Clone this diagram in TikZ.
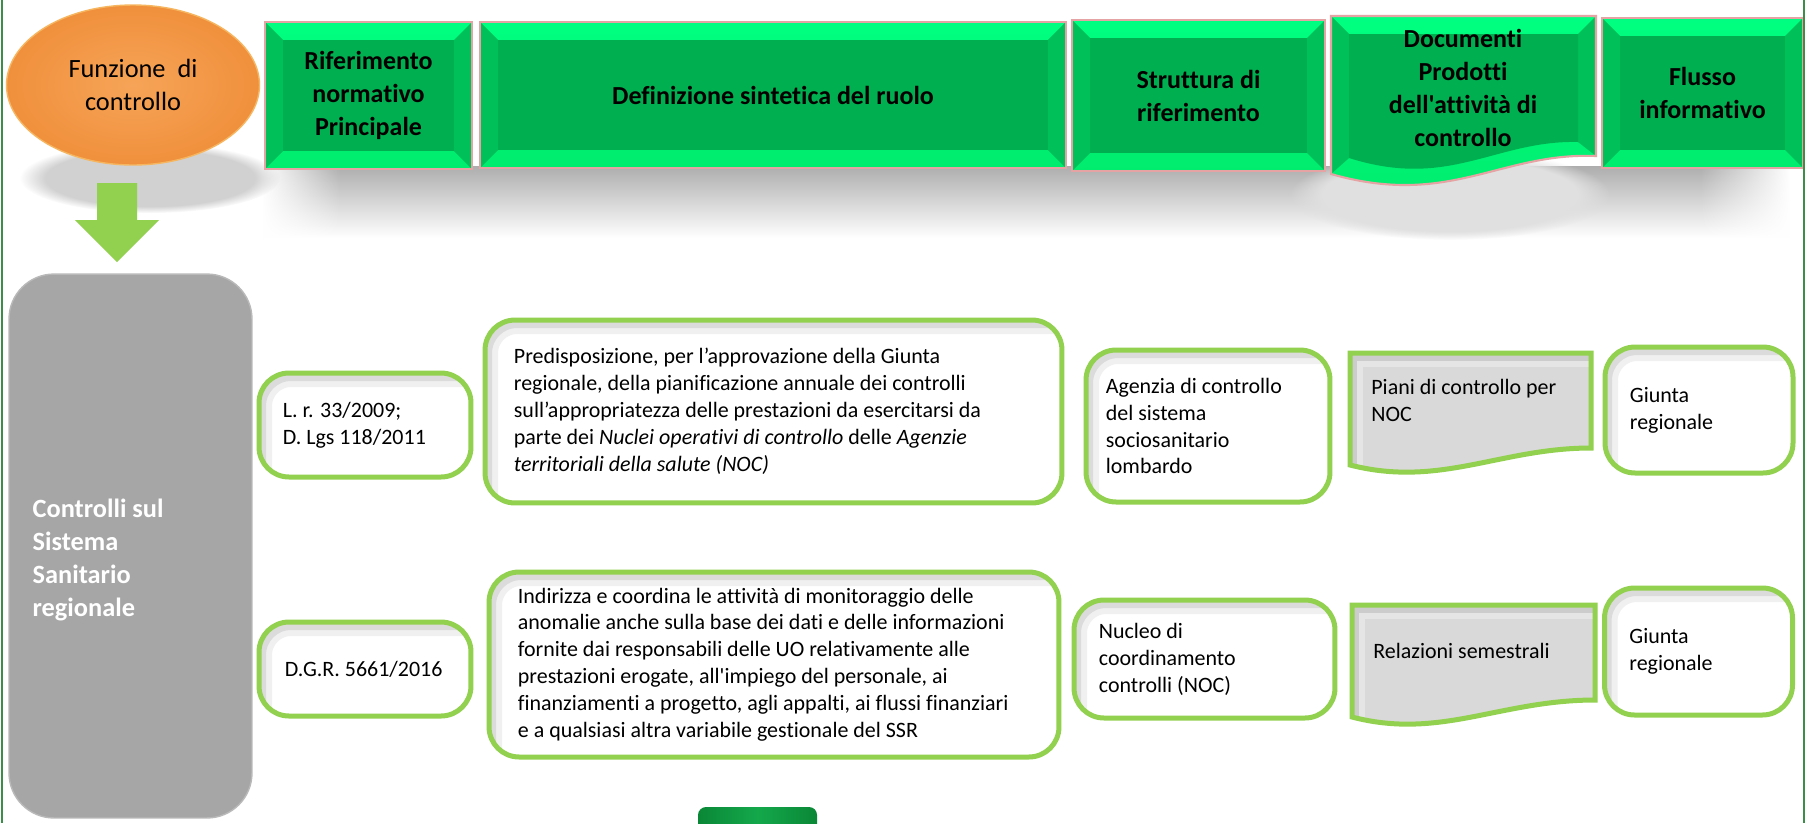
\documentclass[tikz,border=0pt]{standalone}
\usepackage{fontspec}
\setmainfont{Carlito}[Ligatures={TeXOff,NoCommon}]
\usetikzlibrary{positioning,shapes.geometric,fadings}

\definecolor{hdrface}{HTML}{00AF50}
\definecolor{hdrtop}{HTML}{00FF80}
\definecolor{hdrbot}{HTML}{00EC6E}
\definecolor{hdrside}{HTML}{00C05A}
\definecolor{hdrrim}{HTML}{E6A3A3}
\definecolor{boxgreen}{HTML}{92D050}
\definecolor{docgrey}{HTML}{D9D9D9}
\definecolor{leftgrey}{HTML}{A6A6A6}
\definecolor{greyrim}{HTML}{B9B9B9}
\definecolor{edgegreen}{HTML}{3B8D47}
\definecolor{orangein}{HTML}{F6A458}
\definecolor{orangeout}{HTML}{F0903C}
\definecolor{orangerim}{HTML}{F6B660}
\definecolor{footdark}{HTML}{0A8736}
\definecolor{footlight}{HTML}{14A84B}

\newcommand\hdrfont{\fontsize{14.8}{18.8}\selectfont\bfseries}
\newcommand\txtfont{\fontsize{12.5}{15.3}\selectfont}

\tikzset{
  hdrbox/.style={rectangle, draw=hdrrim, line width=1.2pt, top color=hdrtop, bottom color=hdrbot,
    inner sep=0pt, align=center, font=\hdrfont,
    path picture={
      \fill[hdrside] (path picture bounding box.north west) -- ++(0.36cm,-0.36cm)
        -- ([shift={(0.36cm,0.36cm)}]path picture bounding box.south west)
        -- (path picture bounding box.south west) -- cycle;
      \fill[hdrside] (path picture bounding box.north east) -- ++(-0.36cm,-0.36cm)
        -- ([shift={(-0.36cm,0.36cm)}]path picture bounding box.south east)
        -- (path picture bounding box.south east) -- cycle;
      \fill[hdrface] ([shift={(0.36cm,-0.36cm)}]path picture bounding box.north west)
        rectangle ([shift={(-0.36cm,0.36cm)}]path picture bounding box.south east);
    }},
  hdrtxt/.style={inner sep=0pt, align=center, font=\hdrfont},
  rowbox/.style={rectangle, rounded corners=0.6cm, draw=boxgreen, line width=0.1cm, fill=white,
    path picture={
      \draw[black!6, line width=0.44cm, rounded corners=0.6cm]
        ([shift={(0.04cm,-0.06cm)}]path picture bounding box.north west)
        rectangle ([shift={(2cm,-2cm)}]path picture bounding box.south east);
      \draw[black!14, line width=0.2cm, rounded corners=0.6cm]
        ([shift={(0.04cm,-0.06cm)}]path picture bounding box.north west)
        rectangle ([shift={(2cm,-2cm)}]path picture bounding box.south east);
    }},
  docbox/.style={draw=boxgreen, line width=0.1cm, fill=docgrey,
    path picture={
      \draw[black!10, line width=0.44cm]
        ([shift={(0.04cm,-0.06cm)}]path picture bounding box.north west)
        rectangle ([shift={(2cm,-2cm)}]path picture bounding box.south east);
      \draw[black!20, line width=0.2cm]
        ([shift={(0.04cm,-0.06cm)}]path picture bounding box.north west)
        rectangle ([shift={(2cm,-2cm)}]path picture bounding box.south east);
    }},
  txt/.style={inner sep=0pt, align=left, font=\txtfont},
}

\begin{document}
\begin{tikzpicture}[x=0.02cm, y=-0.02cm]
\useasboundingbox (0,0) rectangle (1807,823);
\fill[white] (0,0) rectangle (1807,823);

% shadows under the header row
\shade[top color=black!32, bottom color=white] (340,166) rectangle (1700,238);
\shade[top color=black!32, bottom color=white, path fading=west] (262,166) rectangle (340,238);
\shade[top color=black!32, bottom color=white, path fading=east] (1700,166) rectangle (1790,238);
\fill[black!12, path fading=circle with fuzzy edge 20 percent] (1450,195) ellipse (3.2cm and 0.9cm);
\fill[black!18, path fading=circle with fuzzy edge 20 percent] (150,178) ellipse (2.6cm and 0.7cm);

% header
\node[ellipse, minimum width=5.06cm, minimum height=3.2cm, inner color=orangein, outer color=orangeout,
  draw=orangerim, line width=0.8pt, align=center, font=\fontsize{15}{18.8}\selectfont] (funz) at (133,85) {Funzione~~di\\controllo};

\node[hdrbox, minimum width=4.14cm, minimum height=2.94cm] (rif) at (368.5,95.5) {Riferimento\\normativo\\Principale};
\node[hdrbox, minimum width=11.72cm, minimum height=2.92cm] (defin) at (773,95) {Definizione sintetica del ruolo};
\node[hdrbox, minimum width=5.06cm, minimum height=3.02cm] (strut) at (1198.5,95.5) {Struttura di\\riferimento};

\path[top color=hdrtop, bottom color=hdrbot]
  (1331,16) -- (1596,16) -- (1596,156) .. controls (1500,152) and (1450,208) .. (1331,174) -- cycle;
\fill[hdrside] (1331,16) -- (1349,34) -- (1349,158) -- (1331,174) -- cycle;
\fill[hdrside] (1596,16) -- (1578,34) -- (1578,142) -- (1596,156) -- cycle;
\fill[hdrface] (1349,34) -- (1578,34) -- (1578,142) .. controls (1495,140) and (1450,190) .. (1349,158) -- cycle;
\draw[hdrrim, line width=1.2pt]
  (1331,16) -- (1596,16) -- (1596,156) .. controls (1500,152) and (1450,208) .. (1331,174) -- cycle;
\node[hdrtxt] (doku) at (1463,88) {Documenti\\Prodotti\\dell'attività di\\controllo};

\node[hdrbox, minimum width=4.02cm, minimum height=3.0cm] (flusso) at (1702.5,93) {Flusso\\informativo};

% freccia
\fill[boxgreen] (97,183) -- (137,183) -- (137,220) -- (159,220) -- (117,262) -- (75,220) -- (97,220) -- cycle;

% colonna sinistra
\node[rectangle, rounded corners=0.9cm, fill=leftgrey, draw=greyrim, line width=0.8pt,
  minimum width=4.86cm, minimum height=10.88cm] (ambito) at (130.5,546) {};
\node[anchor=west, align=left, inner sep=0pt, text=white, font=\fontsize{15}{18.8}\selectfont\bfseries]
  (ambitotxt) at ([shift={(0.48cm,-0.28cm)}]ambito.west) {Controlli sul\\Sistema\\Sanitario\\regionale};

% riga 1
\node[rowbox, minimum width=4.24cm, minimum height=2.08cm] (lr1) at (365,425) {};
\node[txt, right=0.52cm of lr1.west] (lr1t) {L. r. 33/2009;\\D. Lgs 118/2011};
\node[rowbox, minimum width=11.54cm, minimum height=3.66cm] (ruolo1) at (773.5,411.5) {};
\node[txt, right=0.62cm of ruolo1.west] (ruolo1t) {Predisposizione, per l’approvazione della Giunta\\
  regionale, della pianificazione annuale dei controlli\\
  sull’appropriatezza delle prestazioni da esercitarsi da\\
  parte dei \textit{Nuclei operativi di controllo} delle \textit{Agenzie}\\
  \textit{territoriali della salute (NOC)}};
\node[rowbox, minimum width=4.88cm, minimum height=3.04cm] (strut1) at (1208,426) {};
\node[txt, right=0.44cm of strut1.west] (strut1t) {Agenzia di controllo\\del sistema\\sociosanitario\\lombardo};
\path[docbox] (1350,353) -- (1591,353) -- (1591,448) .. controls (1500,448) and (1440,488) .. (1350,465) -- cycle;
\coordinate (doc1) at (1350,353);
\node[txt, below right=0.52cm and 0.42cm of doc1] (doc1t) {Piani di controllo per\\NOC};
\node[rowbox, minimum width=3.76cm, minimum height=2.52cm] (flux1) at (1699,410) {};
\node[txt, right=0.54cm of flux1.west] (flux1t) {Giunta\\regionale};

% riga 2
\node[rowbox, minimum width=4.24cm, minimum height=1.88cm] (lr2) at (365,669) {};
\node[txt, right=0.56cm of lr2.west] (lr2t) {D.G.R. 5661/2016};
\node[rowbox, minimum width=11.4cm, minimum height=3.7cm] (ruolo2) at (774,664.5) {};
\node[txt, right=0.62cm of ruolo2.west] (ruolo2t) {Indirizza e coordina le attività di monitoraggio delle\\
  anomalie anche sulla base dei dati e delle informazioni\\
  fornite dai responsabili delle UO relativamente alle\\
  prestazioni erogate, all'impiego del personale, ai\\
  finanziamenti a progetto, agli appalti, ai flussi finanziari\\
  e a qualsiasi altra variabile gestionale del SSR};
\node[rowbox, minimum width=5.22cm, minimum height=2.36cm] (strut2) at (1204.5,659) {};
\node[txt, right=0.54cm of strut2.west] (strut2t) {Nucleo di\\coordinamento\\controlli (NOC)};
\path[docbox] (1352,605) -- (1595,605) -- (1595,700) .. controls (1500,700) and (1440,740) .. (1352,717) -- cycle;
\coordinate (doc2) at (1352,605);
\node[txt, below right=0.76cm and 0.42cm of doc2] (doc2t) {Relazioni semestrali};
\node[rowbox, minimum width=3.76cm, minimum height=2.54cm] (flux2) at (1698.5,651.5) {};
\node[txt, right=0.54cm of flux2.west] (flux2t) {Giunta\\regionale};

% piede e bordi
\shade[left color=footdark, right color=footdark, middle color=footlight, rounded corners=0.16cm] (698,807) rectangle (817,850);
\draw[edgegreen, line width=0.05cm] (2,0) -- (2,823);
\draw[edgegreen, line width=0.05cm] (1804,0) -- (1804,823);
\end{tikzpicture}
\end{document}
